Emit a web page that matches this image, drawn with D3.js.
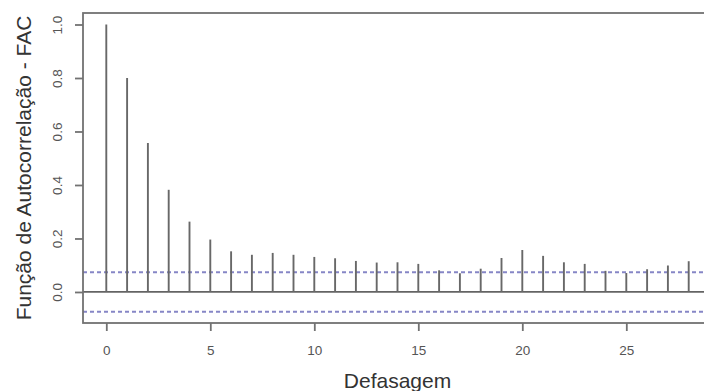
<!DOCTYPE html>
<html>
<head>
<meta charset="utf-8">
<script src="https://cdn.jsdelivr.net/npm/d3@7"></script>
<style>
  html, body { margin: 0; padding: 0; background: #fff; }
  svg { display: block; font-family: Arial, "Liberation Sans", sans-serif; }
</style>
</head>
<body>
<div id="chart"></div>
<script>
// lags and autocorrelation values
const lags = d3.range(0, 29);
const acfValues = [
  1.0, 0.80, 0.557, 0.382, 0.263, 0.196, 0.152, 0.139, 0.146, 0.139,
  0.131, 0.126, 0.116, 0.110, 0.111, 0.105, 0.081, 0.070, 0.087, 0.127,
  0.157, 0.135, 0.111, 0.105, 0.079, 0.071, 0.085, 0.099, 0.115
];
const confLimit = 0.0736; // dashed significance bounds (+/-)
const xTicks = [0, 5, 10, 15, 20, 25];
const yTicks = [0, 0.2, 0.4, 0.6, 0.8, 1.0];
const xLabel = 'Defasagem';
const yLabel = 'Função de Autocorrelação - FAC';

const width = 704, height = 391;
const marginTop = 13, marginLeft = 83, marginBottom = 68, marginRight = -8;

const x = d3.scaleLinear([-1.12, 29.12], [marginLeft, width - marginRight]);
const y = d3.scaleLinear([-0.116, 1.043], [height - marginBottom, marginTop]);

const svg = d3.select('#chart')
  .append('svg')
  .attr('width', width)
  .attr('height', height);

const axisColor = '#727272';
const textColor = '#555';

// dashed confidence limits
svg.append('g')
  .selectAll('line')
  .data([confLimit, -confLimit])
  .join('line')
  .attr('x1', x.range()[0])
  .attr('x2', x.range()[1])
  .attr('y1', d => y(d))
  .attr('y2', d => y(d))
  .attr('stroke', '#8686c6')
  .attr('stroke-width', 2)
  .attr('stroke-dasharray', '4,3');

// zero line
svg.append('line')
  .attr('x1', x.range()[0])
  .attr('x2', x.range()[1])
  .attr('y1', y(0))
  .attr('y2', y(0))
  .attr('stroke', '#646464')
  .attr('stroke-width', 1.8);

// stems
svg.append('g')
  .selectAll('line')
  .data(lags)
  .join('line')
  .attr('x1', d => x(d))
  .attr('x2', d => x(d))
  .attr('y1', y(0))
  .attr('y2', (d, i) => y(acfValues[i]))
  .attr('stroke', '#686868')
  .attr('stroke-width', 1.9);

// plot box
svg.append('rect')
  .attr('x', x.range()[0])
  .attr('y', y.range()[1])
  .attr('width', x.range()[1] - x.range()[0])
  .attr('height', y.range()[0] - y.range()[1])
  .attr('fill', 'none')
  .attr('stroke', axisColor)
  .attr('stroke-width', 1.8);

// x axis
const gX = svg.append('g')
  .attr('transform', `translate(0,${y.range()[0]})`)
  .call(d3.axisBottom(x).tickValues(xTicks).tickSize(8).tickPadding(14).tickFormat(d3.format('d')));
gX.select('.domain').remove();
gX.selectAll('.tick line').attr('stroke', axisColor).attr('stroke-width', 1.8);
gX.selectAll('.tick text').attr('fill', textColor).attr('font-size', 13.5);

// y axis
const gY = svg.append('g')
  .attr('transform', `translate(${x.range()[0]},0)`)
  .call(d3.axisLeft(y).tickValues(yTicks).tickSize(8).tickFormat(d3.format('.1f')));
gY.select('.domain').remove();
gY.selectAll('.tick line').attr('stroke', axisColor).attr('stroke-width', 1.8);
gY.selectAll('.tick text')
  .attr('fill', textColor)
  .attr('font-size', 13.5)
  .attr('x', null)
  .attr('dy', null)
  .attr('text-anchor', 'middle')
  .attr('dominant-baseline', 'central')
  .attr('transform', 'translate(-26,0) rotate(-90)');

// axis titles
svg.append('text')
  .attr('x', (x.range()[0] + x.range()[1]) / 2)
  .attr('y', 388)
  .attr('text-anchor', 'middle')
  .attr('font-size', 21)
  .attr('fill', '#333')
  .text(xLabel);

svg.append('text')
  .attr('transform', `translate(31,${(y.range()[0] + y.range()[1]) / 2}) rotate(-90)`)
  .attr('text-anchor', 'middle')
  .attr('font-size', 21)
  .attr('fill', '#333')
  .text(yLabel);
</script>
</body>
</html>
